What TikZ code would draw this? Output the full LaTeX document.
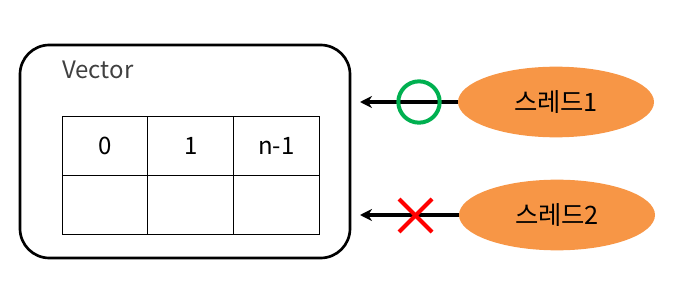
\documentclass[tikz,border=0pt]{standalone}
\usepackage{fontspec}
\setmainfont{Noto Sans CJK KR}
\usetikzlibrary{calc, shapes.geometric, positioning, arrows.meta}

\definecolor{threadorange}{HTML}{F79646}
\definecolor{okgreen}{HTML}{00B050}
\definecolor{ngred}{HTML}{FF0000}

\begin{document}
\begin{tikzpicture}[>=stealth, x=0.75pt, y=-0.75pt,
    thread/.style={ellipse, fill=threadorange, minimum width=147pt, minimum height=53pt, inner sep=0pt, font=\fontsize{19}{21}\selectfont},
    cell/.style={draw, line width=0.75pt, outer sep=0pt, minimum width=64.3pt, minimum height=44.25pt, inner sep=0pt, font=\fontsize{18}{20}\selectfont},
    access/.style={->, line width=2.3pt, >={Stealth[length=9pt, width=9pt]}}]

    % =================================================================
    % 1. KHUNG VÀ VECTOR
    % =================================================================
    \useasboundingbox (0,0) rectangle (683,289);
    \draw[line width=2pt, rounded corners=22pt] (20,45) rectangle (350,258);
    \node[anchor=west, text=black!75, font=\fontsize{18}{20}\selectfont, inner sep=0pt] (title) at (62,70) {Vector};

    % Các ô của vector
    \node[cell] (c0) at (105,145.5) {0};
    \node[cell, right=0pt of c0] (c1) {1};
    \node[cell, right=0pt of c1] (cn) {n-1};
    \node[cell, below=0pt of c0] (d0) {};
    \node[cell, below=0pt of c1] (d1) {};
    \node[cell, below=0pt of cn] (dn) {};

    % =================================================================
    % 2. CÁC LUỒNG (THREAD)
    % =================================================================
    \node[thread] (t1) at (556,102) {스레드1};
    \node[thread] (t2) at (557,215) {스레드2};

    \coordinate (in1) at (360,102);
    \coordinate (in2) at (360,215);

    % Mũi tên truy cập
    \draw[access] (t1.west) -- (in1);
    \draw[access] (t2.west) -- (in2);

    % =================================================================
    % 3. KÝ HIỆU O VÀ X
    % =================================================================
    \draw[okgreen, line width=3pt] (419,102) circle (15.5pt);
    \draw[ngred, line width=3pt] (399,199) -- (432,232);
    \draw[ngred, line width=3pt] (399,232) -- (432,199);

\end{tikzpicture}
\end{document}
